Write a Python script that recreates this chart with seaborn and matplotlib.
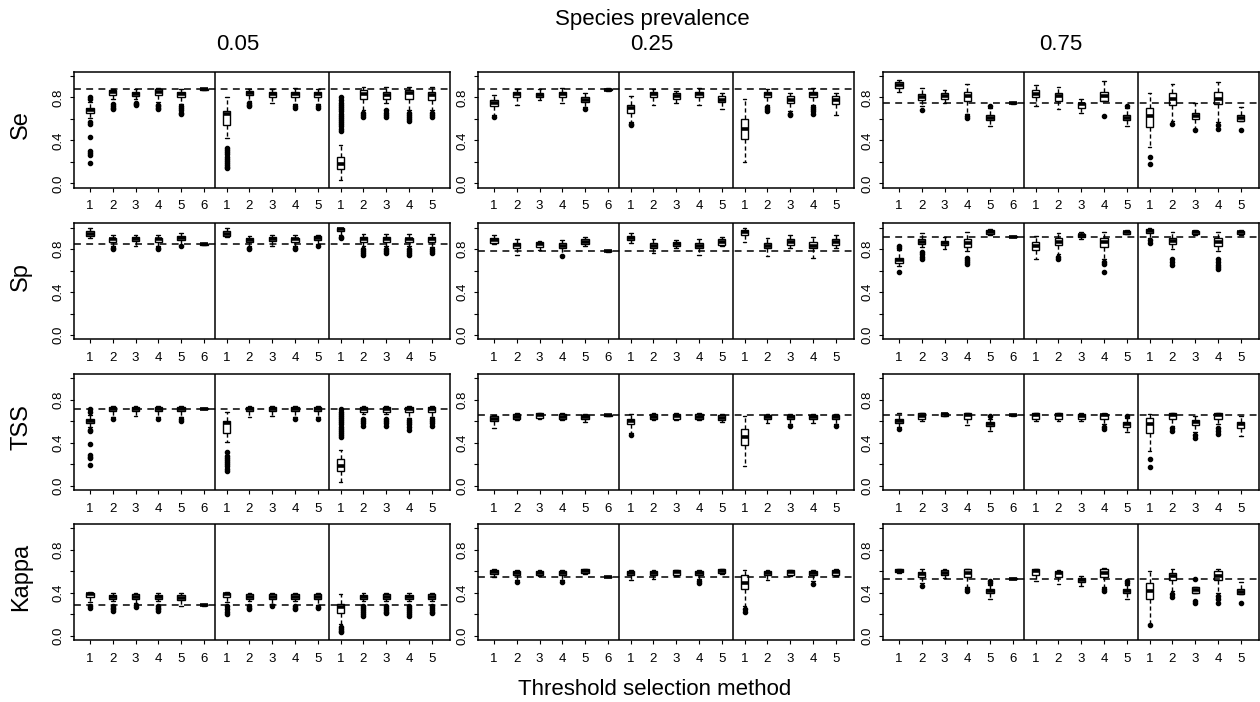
import numpy as np
import pandas as pd
import matplotlib
matplotlib.use("Agg")
import matplotlib.pyplot as plt
import seaborn as sns

# ---------------- data ----------------
# each box: (lower whisker, Q1, median, Q3, upper whisker, [outliers])
prevalences = ["0.05", "0.25", "0.75"]
metrics = ["Se", "Sp", "TSS", "Kappa"]
group_sizes = [6, 5, 5]
method_labels = ["1", "2", "3", "4", "5", "6", "1", "2", "3", "4", "5", "1", "2", "3", "4", "5"]

se_p05 = [
    (0.61, 0.655, 0.68, 0.705, 0.76, [0.79, 0.80, 0.57, 0.55, 0.43, 0.30, 0.28, 0.26, 0.19]),
    (0.79, 0.82, 0.85, 0.868, 0.88, [0.74, 0.72, 0.70, 0.69]),
    (0.79, 0.815, 0.835, 0.855, 0.88, [0.75, 0.74, 0.73]),
    (0.76, 0.82, 0.85, 0.875, 0.885, [0.73, 0.72, 0.70, 0.69]),
    (0.78, 0.805, 0.83, 0.855, 0.88, [0.74, 0.72, 0.70, 0.68, 0.66, 0.65]),
    (0.868, 0.872, 0.875, 0.878, 0.882, []),
    (0.42, 0.54, 0.65, 0.67, 0.80, [0.33, 0.31, 0.29, 0.27, 0.25, 0.23, 0.21, 0.19, 0.17, 0.15, 0.14]),
    (0.79, 0.82, 0.845, 0.86, 0.88, [0.77, 0.75, 0.73, 0.72]),
    (0.79, 0.805, 0.83, 0.855, 0.88, [0.75]),
    (0.79, 0.805, 0.83, 0.855, 0.885, [0.76, 0.74, 0.72, 0.70]),
    (0.79, 0.805, 0.83, 0.855, 0.88, [0.74, 0.72, 0.70]),
    (0.03, 0.135, 0.18, 0.245, 0.36, [0.80, 0.78, 0.75, 0.73, 0.71, 0.69, 0.67, 0.65, 0.63, 0.61,
                                      0.59, 0.57, 0.55, 0.53, 0.51, 0.49]),
    (0.75, 0.79, 0.835, 0.87, 0.90, [0.68, 0.66, 0.64, 0.62]),
    (0.75, 0.785, 0.82, 0.855, 0.90, [0.68, 0.66, 0.64, 0.62]),
    (0.75, 0.79, 0.84, 0.87, 0.90, [0.70, 0.68, 0.66, 0.64, 0.62, 0.60, 0.58]),
    (0.74, 0.78, 0.82, 0.855, 0.90, [0.68, 0.66, 0.64, 0.62]),
]
se_p25 = [
    (0.69, 0.72, 0.745, 0.775, 0.82, [0.66, 0.64, 0.62]),
    (0.77, 0.80, 0.83, 0.855, 0.88, [0.75, 0.73]),
    (0.775, 0.805, 0.825, 0.845, 0.875, []),
    (0.78, 0.80, 0.83, 0.855, 0.885, [0.765, 0.745]),
    (0.73, 0.76, 0.78, 0.805, 0.845, [0.71, 0.69]),
    (0.862, 0.868, 0.874, 0.878, 0.884, []),
    (0.60, 0.66, 0.705, 0.73, 0.81, [0.57, 0.55, 0.54]),
    (0.77, 0.80, 0.83, 0.855, 0.88, [0.75, 0.73]),
    (0.77, 0.79, 0.815, 0.845, 0.86, [0.76, 0.75]),
    (0.77, 0.80, 0.83, 0.855, 0.89, [0.74, 0.73]),
    (0.73, 0.76, 0.78, 0.81, 0.845, [0.71, 0.69]),
    (0.195, 0.41, 0.505, 0.595, 0.79, []),
    (0.77, 0.80, 0.83, 0.855, 0.88, [0.73, 0.71, 0.69, 0.675]),
    (0.72, 0.75, 0.78, 0.81, 0.845, [0.69, 0.67, 0.65, 0.635]),
    (0.77, 0.80, 0.83, 0.855, 0.89, [0.73, 0.71, 0.69, 0.67, 0.645]),
    (0.70, 0.74, 0.775, 0.81, 0.845, [0.66, 0.645, 0.635]),
]
se_p75 = [
    (0.855, 0.892, 0.915, 0.94, 0.963, []),
    (0.72, 0.774, 0.80, 0.83, 0.892, [0.68]),
    (0.752, 0.784, 0.81, 0.84, 0.87, []),
    (0.70, 0.768, 0.81, 0.854, 0.929, [0.675, 0.65, 0.63, 0.613]),
    (0.57, 0.588, 0.61, 0.635, 0.66, [0.72, 0.70, 0.675, 0.536]),
    (0.742, 0.746, 0.749, 0.752, 0.756, []),
    (0.72, 0.80, 0.835, 0.87, 0.913, []),
    (0.69, 0.768, 0.81, 0.84, 0.90, []),
    (0.68, 0.706, 0.735, 0.752, 0.79, [0.66]),
    (0.63, 0.768, 0.81, 0.854, 0.95, []),
    (0.57, 0.588, 0.61, 0.635, 0.66, [0.72, 0.70, 0.68, 0.536]),
    (0.34, 0.526, 0.63, 0.706, 0.84, [0.25, 0.18]),
    (0.65, 0.73, 0.79, 0.845, 0.924, [0.60, 0.58, 0.557]),
    (0.54, 0.597, 0.63, 0.66, 0.752, [0.51, 0.495]),
    (0.62, 0.737, 0.79, 0.85, 0.945, [0.60, 0.57, 0.54, 0.505]),
    (0.495, 0.582, 0.61, 0.635, 0.712, []),
]
sp_p05 = [
    (0.905, 0.925, 0.945, 0.965, 1.0, []),
    (0.85, 0.869, 0.89, 0.906, 0.93, [0.83, 0.81, 0.80]),
    (0.86, 0.875, 0.895, 0.912, 0.935, [0.84, 0.83]),
    (0.85, 0.869, 0.89, 0.906, 0.93, [0.83, 0.81, 0.80]),
    (0.865, 0.885, 0.90, 0.921, 0.947, [0.84, 0.83]),
    (0.838, 0.842, 0.845, 0.848, 0.852, []),
    (0.91, 0.922, 0.945, 0.968, 1.0, []),
    (0.85, 0.869, 0.885, 0.90, 0.924, [0.83, 0.81, 0.805]),
    (0.86, 0.875, 0.895, 0.912, 0.935, [0.84, 0.83]),
    (0.85, 0.869, 0.89, 0.906, 0.93, [0.83, 0.81, 0.80]),
    (0.865, 0.885, 0.90, 0.921, 0.93, [0.85, 0.83]),
    (0.93, 0.965, 0.985, 1.0, 1.0, [0.91, 0.90]),
    (0.85, 0.87, 0.89, 0.91, 0.94, [0.83, 0.80, 0.78, 0.76, 0.745]),
    (0.85, 0.87, 0.89, 0.91, 0.94, [0.83, 0.80, 0.78, 0.76]),
    (0.85, 0.87, 0.89, 0.906, 0.94, [0.83, 0.80, 0.78, 0.76, 0.745]),
    (0.85, 0.87, 0.89, 0.91, 0.94, [0.82, 0.80, 0.78, 0.76]),
]
sp_p25 = [
    (0.845, 0.86, 0.885, 0.906, 0.93, []),
    (0.767, 0.807, 0.835, 0.86, 0.89, [0.742]),
    (0.79, 0.823, 0.845, 0.866, 0.875, []),
    (0.77, 0.807, 0.83, 0.854, 0.885, [0.745, 0.736]),
    (0.83, 0.845, 0.87, 0.897, 0.91, []),
    (0.776, 0.78, 0.783, 0.786, 0.79, []),
    (0.86, 0.885, 0.905, 0.925, 0.95, []),
    (0.765, 0.807, 0.83, 0.854, 0.89, []),
    (0.807, 0.83, 0.85, 0.87, 0.88, []),
    (0.76, 0.807, 0.83, 0.854, 0.89, [0.742]),
    (0.83, 0.839, 0.87, 0.897, 0.91, []),
    (0.90, 0.93, 0.955, 0.977, 0.993, [0.869]),
    (0.736, 0.807, 0.83, 0.86, 0.906, []),
    (0.813, 0.839, 0.865, 0.89, 0.93, []),
    (0.714, 0.807, 0.83, 0.87, 0.915, []),
    (0.813, 0.839, 0.865, 0.89, 0.93, []),
]
sp_p75 = [
    (0.64, 0.668, 0.695, 0.721, 0.76, [0.83, 0.81, 0.79, 0.585]),
    (0.82, 0.845, 0.87, 0.89, 0.947, [0.773, 0.75, 0.73, 0.711]),
    (0.80, 0.839, 0.86, 0.875, 0.916, []),
    (0.78, 0.823, 0.855, 0.89, 0.963, [0.72, 0.70, 0.68, 0.659]),
    (0.93, 0.942, 0.96, 0.975, 0.984, []),
    (0.91, 0.913, 0.916, 0.919, 0.922, []),
    (0.711, 0.79, 0.83, 0.87, 0.922, []),
    (0.80, 0.839, 0.87, 0.906, 0.947, [0.75, 0.73, 0.705]),
    (0.89, 0.91, 0.93, 0.945, 0.963, []),
    (0.78, 0.823, 0.87, 0.906, 0.963, [0.705, 0.68, 0.659, 0.59]),
    (0.936, 0.945, 0.96, 0.97, 0.977, []),
    (0.93, 0.947, 0.965, 0.984, 0.995, [0.90, 0.88, 0.86]),
    (0.80, 0.845, 0.875, 0.906, 0.963, [0.705, 0.68, 0.65]),
    (0.928, 0.94, 0.955, 0.968, 0.975, []),
    (0.78, 0.83, 0.87, 0.906, 0.963, [0.705, 0.68, 0.65, 0.63, 0.61]),
    (0.928, 0.94, 0.955, 0.968, 0.975, []),
]
tss_p05 = [
    (0.55, 0.585, 0.605, 0.625, 0.66, [0.71, 0.69, 0.52, 0.51, 0.39, 0.29, 0.27, 0.26, 0.19]),
    (0.68, 0.694, 0.71, 0.73, 0.74, [0.66, 0.64, 0.62]),
    (0.68, 0.694, 0.71, 0.73, 0.74, [0.665, 0.65]),
    (0.68, 0.694, 0.71, 0.73, 0.74, [0.66, 0.64, 0.62]),
    (0.68, 0.694, 0.71, 0.73, 0.74, [0.66, 0.64, 0.62, 0.60]),
    (0.712, 0.715, 0.718, 0.721, 0.724, []),
    (0.408, 0.489, 0.585, 0.603, 0.69, [0.31, 0.28, 0.26, 0.24, 0.22, 0.20, 0.18, 0.16, 0.14]),
    (0.68, 0.694, 0.71, 0.73, 0.74, [0.66, 0.64]),
    (0.68, 0.694, 0.71, 0.73, 0.74, [0.665, 0.65]),
    (0.68, 0.694, 0.71, 0.73, 0.74, [0.66, 0.64, 0.62]),
    (0.68, 0.694, 0.71, 0.73, 0.74, [0.66, 0.64, 0.62]),
    (0.036, 0.139, 0.18, 0.247, 0.333, [0.71, 0.69, 0.67, 0.65, 0.63, 0.61, 0.59, 0.57, 0.55, 0.53,
                                        0.51, 0.49, 0.47, 0.45]),
    (0.67, 0.69, 0.71, 0.733, 0.74, [0.62, 0.60, 0.58, 0.557]),
    (0.67, 0.69, 0.71, 0.733, 0.74, [0.62, 0.60, 0.58, 0.557]),
    (0.67, 0.69, 0.71, 0.733, 0.74, [0.634, 0.61, 0.59, 0.57, 0.55, 0.52]),
    (0.67, 0.69, 0.71, 0.733, 0.74, [0.64, 0.62, 0.60, 0.58, 0.557]),
]
tss_p25 = [
    (0.59, 0.604, 0.625, 0.65, 0.66, [0.573, 0.555, 0.541]),
    (0.61, 0.619, 0.64, 0.666, 0.675, []),
    (0.625, 0.634, 0.655, 0.675, 0.68, []),
    (0.61, 0.619, 0.64, 0.666, 0.675, []),
    (0.61, 0.619, 0.64, 0.659, 0.67, [0.60, 0.59]),
    (0.649, 0.652, 0.655, 0.658, 0.661, []),
    (0.54, 0.573, 0.60, 0.625, 0.666, [0.495, 0.47]),
    (0.61, 0.619, 0.64, 0.666, 0.675, []),
    (0.61, 0.625, 0.645, 0.666, 0.675, []),
    (0.61, 0.619, 0.64, 0.666, 0.675, []),
    (0.61, 0.615, 0.635, 0.659, 0.67, [0.60, 0.59]),
    (0.185, 0.377, 0.455, 0.532, 0.65, []),
    (0.61, 0.619, 0.64, 0.659, 0.67, [0.60, 0.58]),
    (0.61, 0.619, 0.64, 0.659, 0.67, [0.59, 0.575, 0.557]),
    (0.61, 0.619, 0.64, 0.659, 0.67, [0.60, 0.585]),
    (0.61, 0.619, 0.64, 0.659, 0.67, [0.59, 0.575, 0.557]),
]
tss_p75 = [
    (0.56, 0.588, 0.605, 0.625, 0.674, [0.545, 0.53]),
    (0.61, 0.619, 0.65, 0.674, 0.68, [0.60]),
    (0.645, 0.65, 0.665, 0.675, 0.68, []),
    (0.61, 0.625, 0.655, 0.674, 0.68, [0.60, 0.58, 0.566]),
    (0.54, 0.557, 0.575, 0.594, 0.62, [0.65, 0.51]),
    (0.653, 0.656, 0.659, 0.662, 0.665, []),
    (0.61, 0.625, 0.655, 0.674, 0.68, [0.60]),
    (0.61, 0.625, 0.655, 0.674, 0.68, [0.60]),
    (0.61, 0.625, 0.65, 0.668, 0.675, [0.60]),
    (0.61, 0.625, 0.655, 0.67, 0.68, [0.59, 0.57, 0.55, 0.53]),
    (0.53, 0.55, 0.57, 0.59, 0.61, [0.65, 0.63, 0.51, 0.50]),
    (0.325, 0.495, 0.572, 0.634, 0.67, [0.253, 0.176]),
    (0.61, 0.625, 0.655, 0.674, 0.68, [0.603, 0.58, 0.56, 0.54, 0.51]),
    (0.54, 0.563, 0.59, 0.612, 0.65, [0.532, 0.50, 0.475, 0.448]),
    (0.61, 0.625, 0.655, 0.674, 0.68, [0.60, 0.57, 0.54, 0.51, 0.48]),
    (0.48, 0.541, 0.57, 0.594, 0.65, [0.464]),
]
kappa_p05 = [
    (0.33, 0.365, 0.385, 0.402, 0.41, [0.31, 0.28, 0.26]),
    (0.32, 0.34, 0.36, 0.377, 0.393, [0.278, 0.26, 0.245, 0.232]),
    (0.32, 0.346, 0.365, 0.386, 0.40, [0.309, 0.285, 0.263]),
    (0.32, 0.34, 0.36, 0.377, 0.393, [0.278, 0.26, 0.245, 0.232]),
    (0.32, 0.334, 0.355, 0.377, 0.402, [0.31, 0.295, 0.278]),
    (0.281, 0.284, 0.287, 0.29, 0.293, []),
    (0.33, 0.365, 0.385, 0.402, 0.41, [0.31, 0.28, 0.25, 0.22, 0.20]),
    (0.32, 0.346, 0.365, 0.386, 0.40, [0.278, 0.26, 0.245]),
    (0.32, 0.346, 0.365, 0.386, 0.40, [0.295, 0.28]),
    (0.32, 0.346, 0.365, 0.386, 0.40, [0.278, 0.26, 0.245]),
    (0.32, 0.346, 0.365, 0.386, 0.40, [0.31, 0.29, 0.27, 0.26]),
    (0.108, 0.21, 0.265, 0.294, 0.386, [0.077, 0.06, 0.045, 0.03]),
    (0.32, 0.34, 0.36, 0.377, 0.40, [0.278, 0.26, 0.24, 0.22, 0.20, 0.185]),
    (0.32, 0.346, 0.365, 0.386, 0.40, [0.278, 0.26, 0.24, 0.22, 0.21]),
    (0.32, 0.34, 0.36, 0.377, 0.402, [0.278, 0.26, 0.24, 0.22, 0.20, 0.185]),
    (0.32, 0.346, 0.365, 0.386, 0.40, [0.278, 0.26, 0.24, 0.22, 0.21]),
]
kappa_p25 = [
    (0.55, 0.572, 0.59, 0.61, 0.62, []),
    (0.55, 0.566, 0.585, 0.603, 0.615, [0.54, 0.52, 0.504]),
    (0.555, 0.566, 0.585, 0.603, 0.615, []),
    (0.55, 0.566, 0.585, 0.603, 0.615, [0.54, 0.52, 0.504]),
    (0.57, 0.581, 0.60, 0.619, 0.625, []),
    (0.542, 0.545, 0.548, 0.551, 0.554, []),
    (0.55, 0.566, 0.585, 0.603, 0.615, [0.54, 0.519]),
    (0.55, 0.566, 0.585, 0.603, 0.615, [0.53]),
    (0.56, 0.566, 0.59, 0.61, 0.615, []),
    (0.55, 0.566, 0.585, 0.603, 0.615, [0.532, 0.51, 0.495]),
    (0.57, 0.581, 0.60, 0.619, 0.625, []),
    (0.278, 0.439, 0.495, 0.563, 0.61, [0.247, 0.222]),
    (0.55, 0.563, 0.585, 0.603, 0.615, [0.53, 0.52]),
    (0.56, 0.566, 0.59, 0.61, 0.615, []),
    (0.55, 0.563, 0.585, 0.603, 0.615, [0.526, 0.505, 0.48]),
    (0.56, 0.566, 0.59, 0.61, 0.62, []),
]
kappa_p75 = [
    (0.58, 0.59, 0.605, 0.618, 0.624, []),
    (0.52, 0.55, 0.575, 0.597, 0.619, [0.49, 0.464]),
    (0.54, 0.563, 0.585, 0.61, 0.625, []),
    (0.50, 0.55, 0.585, 0.619, 0.625, [0.47, 0.45, 0.433, 0.418]),
    (0.37, 0.396, 0.415, 0.433, 0.47, [0.51, 0.495, 0.346]),
    (0.526, 0.529, 0.532, 0.535, 0.538, []),
    (0.51, 0.563, 0.60, 0.619, 0.625, []),
    (0.48, 0.55, 0.58, 0.603, 0.615, []),
    (0.48, 0.50, 0.52, 0.54, 0.56, [0.464]),
    (0.50, 0.55, 0.585, 0.619, 0.628, [0.449, 0.433, 0.418]),
    (0.37, 0.396, 0.415, 0.433, 0.47, [0.51, 0.49, 0.346]),
    (0.18, 0.34, 0.418, 0.495, 0.603, [0.11, 0.10]),
    (0.47, 0.52, 0.56, 0.588, 0.619, [0.449, 0.42, 0.39, 0.356]),
    (0.325, 0.402, 0.425, 0.449, 0.526, [0.309]),
    (0.46, 0.52, 0.56, 0.603, 0.619, [0.433, 0.40, 0.37, 0.34, 0.309]),
    (0.309, 0.387, 0.41, 0.433, 0.50, []),
]

# dashed reference lines (one per panel: rows Se, Sp, TSS, Kappa; columns 0.05, 0.25, 0.75)
ref_se = [0.876, 0.876, 0.749]
ref_sp = [0.845, 0.783, 0.916]
ref_tss = [0.718, 0.655, 0.659]
ref_kappa = [0.287, 0.548, 0.532]

panels = [
    [se_p05, se_p25, se_p75],
    [sp_p05, sp_p25, sp_p75],
    [tss_p05, tss_p25, tss_p75],
    [kappa_p05, kappa_p25, kappa_p75],
]
refs = [ref_se, ref_sp, ref_tss, ref_kappa]


def panel_frame(boxes, rep=30):
    """Build a long table whose quartiles / whiskers reproduce the read summaries."""
    rows = []
    for pos, (lo, q1, med, q3, hi, out) in enumerate(boxes):
        vals = [lo] + [q1] * rep + [med] * rep + [q3] * rep + [hi] + list(out)
        rows.extend((pos, v) for v in vals)
    return pd.DataFrame(rows, columns=["pos", "value"])


# ---------------- style ----------------
sns.set_style("ticks")
plt.rcParams["font.family"] = ["Liberation Sans", "DejaVu Sans"]
plt.rcParams["axes.linewidth"] = 1.1
plt.rcParams["text.color"] = "black"
plt.rcParams["axes.labelcolor"] = "black"
plt.rcParams["xtick.color"] = "black"
plt.rcParams["ytick.color"] = "black"
plt.rcParams["axes.edgecolor"] = "black"

W, H = 1260, 702
fig = plt.figure(figsize=(W / 100, H / 100), dpi=100)

col_left = [74, 478, 883]
col_w = 376
row_top = [71.7, 223.3, 374, 524]
row_h = 116

dividers = np.cumsum(group_sizes)[:-1] - 0.5

for r in range(4):
    for c in range(3):
        ax = fig.add_axes([col_left[c] / W, 1 - (row_top[r] + row_h) / H, col_w / W, row_h / H])
        df = panel_frame(panels[r][c])
        sns.boxplot(
            data=df, x="pos", y="value", ax=ax,
            color="white", saturation=1, linecolor="black", linewidth=1.0,
            width=0.32, whis=1.5,
            medianprops=dict(color="black", linewidth=2.6, solid_capstyle="butt"),
            whiskerprops=dict(color="black", linewidth=1.0, linestyle=(0, (3, 2))),
            capprops=dict(color="black", linewidth=1.0),
            flierprops=dict(marker="o", markerfacecolor="black", markeredgecolor="black",
                            markersize=3.0, linestyle="none"),
        )
        for d in dividers:
            ax.axvline(d, color="black", lw=1.1, zorder=5)
        ax.axhline(refs[r][c], color="black", lw=1.1, ls=(0, (4.5, 3.5)), zorder=4)

        ax.set_xlim(-0.7, 15.8)
        ax.set_ylim(-0.04, 1.04)
        ax.set_xticks(range(len(method_labels)))
        ax.set_xticklabels(method_labels)
        ax.set_yticks([0.0, 0.2, 0.4, 0.6, 0.8, 1.0])
        ax.set_yticklabels(["0.0", "", "0.4", "", "0.8", ""])
        ax.tick_params(axis="x", direction="out", length=3, width=0.8, labelsize=9.5, pad=6,
                       colors="black")
        ax.tick_params(axis="y", direction="out", length=3, width=0.8, labelsize=9.5, pad=4,
                       colors="black", labelrotation=90)
        for lab in ax.get_yticklabels():
            lab.set_va("center")
        ax.set_xlabel("")
        ax.set_ylabel("")
        for s in ax.spines.values():
            s.set_visible(True)
            s.set_color("black")
            s.set_linewidth(1.1)

# row labels
for r, name in enumerate(metrics):
    yc = row_top[r] + row_h / 2 - 5
    fig.text(21 / W, 1 - yc / H, name, rotation=90, ha="center", va="center", fontsize=17,
             color="black")

# column titles
title_x = [238, 652, 1061]
for c, p in enumerate(prevalences):
    fig.text(title_x[c] / W, 1 - 50 / H, p, ha="center", va="baseline", fontsize=16, color="black")

fig.text(652 / W, 1 - 25 / H, "Species prevalence", ha="center", va="baseline", fontsize=16,
         color="black")
fig.text(655 / W, 1 - 695 / H, "Threshold selection method", ha="center", va="baseline",
         fontsize=16, color="black")

fig.savefig("out.png", dpi=100)
